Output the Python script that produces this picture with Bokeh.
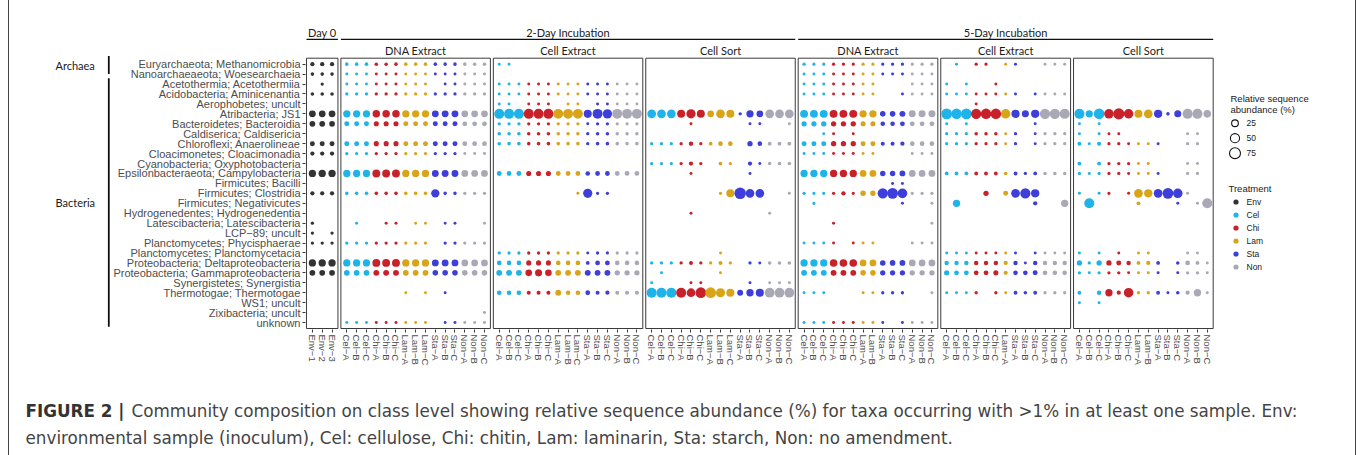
import math
from bokeh.plotting import figure
from bokeh.layouts import row, column
from bokeh.models import Range1d, FixedTicker, Legend, LegendItem, ColumnDataSource
from bokeh.core.properties import value
from bokeh.embed import file_html
from bokeh.resources import INLINE

# ---------------- data ----------------
TAXA = [
    "Euryarchaeota; Methanomicrobia", "Nanoarchaeaeota; Woesearchaeia", "Acetothermia; Acetothermiia",
    "Acidobacteria; Aminicenantia", "Aerophobetes; uncult", "Atribacteria; JS1",
    "Bacteroidetes; Bacteroidia", "Caldiserica; Caldisericia", "Chloroflexi; Anaerolineae",
    "Cloacimonetes; Cloacimonadia", "Cyanobacteria; Oxyphotobacteria", "Epsilonbacteraeota; Campylobacteria",
    "Firmicutes; Bacilli", "Firmicutes; Clostridia", "Firmicutes; Negativicutes",
    "Hydrogenedentes; Hydrogenedentia", "Latescibacteria; Latescibacteria", "LCP\u221289; uncult",
    "Planctomycetes; Phycisphaerae", "Planctomycetes; Planctomycetacia", "Proteobacteria; Deltaproteobacteria",
    "Proteobacteria; Gammaproteobacteria", "Synergistetes; Synergistia", "Thermotogae; Thermotogae",
    "WS1; uncult", "Zixibacteria; uncult", "unknown",
]
KEYS = [
    "Methanomicrobia", "Woesearchaeia", "Acetothermiia", "Aminicenantia", "Aerophobetes", "JS1",
    "Bacteroidia", "Caldisericia", "Anaerolineae", "Cloacimonadia", "Oxyphotobacteria", "Campylobacteria",
    "Bacilli", "Clostridia", "Negativicutes", "Hydrogenedentia", "Latescibacteria", "LCP-89",
    "Phycisphaerae", "Planctomycetacia", "Deltaproteobacteria", "Gammaproteobacteria", "Synergistia",
    "Thermotogae", "WS1", "Zixibacteria", "unknown",
]
DOMAINS = [("Archaea", 0, 1), ("Bacteria", 2, 26)]

M = "\u2212"
SAMPLES_DAY0 = ["Env" + M + "1", "Env" + M + "2", "Env" + M + "3"]
SAMPLES_15 = ["Cel" + M + "A", "Cel" + M + "B", "Cel" + M + "C", "Chi" + M + "A", "Chi" + M + "B", "Chi" + M + "C",
              "Lam" + M + "A", "Lam" + M + "B", "Lam" + M + "C", "Sta" + M + "A", "Sta" + M + "B", "Sta" + M + "C",
              "Non" + M + "A", "Non" + M + "B", "Non" + M + "C"]
SAMPLES_5D_DNA = ["Cel" + M + "A", "Cel" + M + "B", "Cel" + M + "C", "Chi" + M + "A", "Chi" + M + "B", "Chi" + M + "C",
                  "Lam" + M + "A", "Lam" + M + "B", "Sta" + M + "A", "Sta" + M + "B", "Sta" + M + "C",
                  "Non" + M + "A", "Non" + M + "B", "Non" + M + "C"]
SAMPLES_5D_CELLEX = ["Cel" + M + "A", "Cel" + M + "B", "Cel" + M + "C", "Chi" + M + "A", "Chi" + M + "B", "Chi" + M + "C",
                     "Lam" + M + "A", "Sta" + M + "A", "Sta" + M + "B", "Sta" + M + "C",
                     "Non" + M + "A", "Non" + M + "B", "Non" + M + "C"]
SAMPLES_5D_SORT = ["Cel" + M + "A", "Cel" + M + "B", "Cel" + M + "C", "Chi" + M + "A", "Chi" + M + "B", "Chi" + M + "C",
                   "Lam" + M + "A", "Lam" + M + "B", "Sta" + M + "A", "Sta" + M + "B", "Sta" + M + "C",
                   "Non" + M + "A", "Non" + M + "B", "Non" + M + "C"]

# relative sequence abundance (%) per taxon, one value per sample (0 = not shown)
DAY0 = {
    "Methanomicrobia": [8, 8, 8], "Woesearchaeia": [5, 5, 5], "Acetothermiia": [0, 4, 0],
    "Aminicenantia": [5, 5, 5], "JS1": [25, 25, 25], "Bacteroidia": [17, 17, 17],
    "Anaerolineae": [12, 12, 12], "Cloacimonadia": [8, 8, 8], "Campylobacteria": [30, 30, 30],
    "Clostridia": [8, 8, 8], "Latescibacteria": [4, 0, 0], "LCP-89": [4, 0, 4],
    "Phycisphaerae": [4, 4, 4], "Deltaproteobacteria": [30, 30, 30], "Gammaproteobacteria": [17, 17, 17],
}
D2_DNA = {
    "Methanomicrobia":     [5, 5, 5, 5, 5, 5, 5, 5, 5, 5, 5, 5, 5, 5, 5],
    "Woesearchaeia":       [3, 3, 3, 3, 3, 3, 3, 3, 3, 3, 3, 3, 3, 3, 3],
    "Acetothermiia":       [3, 3, 3, 3, 3, 3, 3, 3, 3, 0, 3, 3, 3, 3, 3],
    "Aminicenantia":       [4, 4, 4, 4, 4, 4, 4, 4, 4, 4, 4, 4, 4, 4, 4],
    "JS1":                 [30, 30, 30, 32, 32, 32, 30, 30, 30, 26, 26, 26, 25, 25, 25],
    "Bacteroidia":         [12, 12, 12, 13, 13, 13, 12, 12, 12, 12, 12, 12, 11, 11, 11],
    "Anaerolineae":        [12, 12, 12, 13, 13, 13, 12, 12, 12, 12, 12, 12, 11, 11, 11],
    "Cloacimonadia":       [4, 4, 4, 4, 4, 4, 4, 4, 4, 4, 4, 4, 3, 3, 3],
    "Campylobacteria":     [30, 30, 30, 36, 36, 36, 30, 30, 30, 26, 26, 26, 25, 25, 25],
    "Clostridia":          [5, 5, 5, 5, 5, 5, 5, 5, 5, 40, 5, 5, 4, 4, 4],
    "Latescibacteria":     [0, 3, 0, 0, 3, 3, 0, 3, 3, 0, 3, 3, 0, 0, 3],
    "Phycisphaerae":       [4, 4, 4, 4, 4, 4, 4, 4, 4, 0, 4, 4, 4, 4, 4],
    "Deltaproteobacteria": [30, 30, 30, 36, 36, 36, 30, 30, 30, 26, 26, 26, 25, 25, 25],
    "Gammaproteobacteria": [17, 17, 17, 18, 18, 18, 17, 17, 17, 16, 16, 16, 16, 16, 16],
    "Thermotogae":         [0, 0, 0, 0, 0, 0, 3, 0, 3, 0, 3, 0, 0, 0, 0],
    "Zixibacteria":        [0, 0, 0, 0, 0, 0, 0, 0, 0, 0, 0, 0, 0, 0, 3],
    "unknown":             [3, 3, 3, 3, 3, 3, 3, 3, 3, 0, 3, 3, 3, 3, 3],
}
D2_CELLEX = {
    "Methanomicrobia":     [3, 3, 0, 0, 0, 0, 0, 0, 0, 0, 0, 0, 0, 0, 0],
    "Acetothermiia":       [3, 3, 3, 3, 3, 3, 3, 3, 3, 3, 3, 3, 3, 3, 3],
    "Aminicenantia":       [3, 3, 3, 3, 3, 3, 3, 3, 3, 3, 3, 3, 3, 3, 3],
    "Aerophobetes":        [3, 3, 0, 3, 3, 3, 0, 3, 3, 0, 3, 3, 3, 3, 3],
    "JS1":                 [62, 62, 62, 62, 62, 62, 60, 60, 60, 38, 60, 52, 60, 60, 60],
    "Bacteroidia":         [4, 4, 4, 4, 4, 4, 4, 4, 4, 3, 4, 4, 4, 4, 4],
    "Caldisericia":        [5, 5, 5, 5, 5, 5, 5, 5, 5, 4, 5, 5, 5, 5, 5],
    "Anaerolineae":        [5, 5, 5, 5, 5, 5, 5, 5, 5, 4, 5, 5, 5, 5, 5],
    "Campylobacteria":     [11, 11, 11, 13, 13, 13, 11, 11, 11, 10, 11, 11, 11, 11, 11],
    "Clostridia":          [0, 0, 0, 0, 0, 0, 0, 0, 3, 50, 4, 4, 0, 0, 0],
    "Planctomycetacia":    [4, 4, 4, 4, 4, 4, 4, 4, 4, 3, 4, 4, 4, 4, 4],
    "Deltaproteobacteria": [10, 10, 10, 13, 13, 13, 10, 10, 10, 6, 11, 11, 10, 10, 10],
    "Gammaproteobacteria": [18, 18, 18, 24, 28, 24, 18, 18, 18, 18, 18, 18, 14, 14, 14],
    "Thermotogae":         [10, 10, 10, 7, 7, 7, 18, 10, 10, 11, 7, 8, 7, 7, 7],
}
D2_SORT = {
    "JS1":                 [45, 45, 45, 37, 52, 37, 25, 45, 37, 4, 30, 25, 45, 45, 45],
    "Bacteroidia":         [0, 0, 0, 0, 3, 0, 0, 0, 0, 0, 3, 3, 0, 0, 3],
    "Anaerolineae":        [4, 4, 4, 4, 9, 4, 6, 10, 10, 0, 14, 10, 6, 6, 6],
    "Oxyphotobacteria":    [4, 4, 4, 4, 8, 4, 0, 6, 4, 0, 8, 3, 5, 5, 5],
    "Campylobacteria":     [0, 0, 0, 0, 3, 0, 0, 0, 0, 0, 3, 0, 0, 0, 0],
    "Clostridia":          [0, 0, 0, 0, 0, 0, 0, 4, 37, 83, 45, 45, 0, 0, 3],
    "Hydrogenedentia":     [0, 0, 0, 0, 3, 0, 0, 0, 0, 0, 0, 0, 3, 0, 0],
    "Planctomycetacia":    [0, 0, 0, 0, 0, 0, 0, 3, 0, 0, 0, 0, 0, 0, 0],
    "Deltaproteobacteria": [4, 4, 4, 4, 7, 4, 4, 7, 4, 0, 4, 3, 5, 5, 5],
    "Gammaproteobacteria": [0, 3, 0, 0, 0, 0, 0, 3, 0, 0, 0, 0, 0, 0, 0],
    "Synergistia":         [3, 0, 0, 0, 3, 3, 0, 0, 0, 0, 3, 0, 3, 3, 3],
    "Thermotogae":         [62, 62, 62, 62, 45, 72, 72, 50, 38, 18, 30, 38, 58, 58, 58],
}
D5_DNA = {
    "Methanomicrobia":     [4, 4, 4, 4, 4, 4, 4, 4, 4, 4, 4, 4, 4, 4],
    "Woesearchaeia":       [3, 3, 3, 3, 3, 3, 3, 3, 3, 3, 3, 3, 3, 3],
    "Acetothermiia":       [3, 3, 3, 3, 3, 3, 3, 3, 0, 0, 0, 3, 3, 3],
    "Aminicenantia":       [3, 3, 3, 3, 3, 3, 3, 3, 0, 0, 3, 3, 3, 3],
    "JS1":                 [36, 36, 36, 36, 36, 36, 30, 30, 16, 16, 18, 27, 27, 27],
    "Bacteroidia":         [14, 14, 14, 14, 14, 14, 13, 13, 10, 10, 11, 11, 11, 11],
    "Caldisericia":        [0, 0, 3, 3, 0, 3, 0, 0, 0, 0, 0, 0, 0, 0],
    "Anaerolineae":        [12, 12, 12, 14, 14, 14, 12, 12, 7, 7, 8, 10, 10, 10],
    "Cloacimonadia":       [3, 3, 3, 3, 3, 3, 3, 3, 0, 0, 0, 3, 3, 3],
    "Campylobacteria":     [30, 30, 30, 30, 30, 30, 25, 25, 15, 15, 17, 25, 25, 25],
    "Bacilli":             [0, 0, 0, 0, 0, 0, 0, 0, 0, 3, 3, 0, 0, 0],
    "Clostridia":          [4, 4, 4, 4, 9, 4, 15, 15, 65, 72, 58, 4, 4, 4],
    "Negativicutes":       [0, 4, 0, 0, 0, 0, 0, 0, 0, 0, 3, 0, 0, 3],
    "Latescibacteria":     [0, 0, 0, 3, 0, 0, 0, 0, 0, 0, 0, 0, 0, 3],
    "Phycisphaerae":       [3, 3, 3, 3, 0, 3, 3, 3, 0, 0, 0, 3, 3, 3],
    "Deltaproteobacteria": [30, 30, 30, 33, 33, 33, 25, 25, 16, 16, 17, 25, 25, 25],
    "Gammaproteobacteria": [18, 18, 18, 18, 18, 18, 16, 16, 14, 14, 14, 14, 14, 14],
    "Thermotogae":         [3, 3, 3, 0, 0, 0, 3, 3, 4, 4, 4, 0, 0, 3],
    "unknown":             [3, 3, 3, 3, 3, 3, 3, 3, 3, 0, 3, 3, 3, 3],
}
D5_CELLEX = {
    "Methanomicrobia":     [0, 3, 0, 4, 4, 0, 3, 3, 0, 0, 3, 3, 3],
    "Acetothermiia":       [3, 0, 3, 0, 0, 3, 0, 0, 0, 0, 0, 0, 0],
    "Aminicenantia":       [3, 3, 3, 3, 3, 3, 3, 3, 0, 3, 3, 3, 3],
    "Aerophobetes":        [0, 0, 0, 3, 0, 0, 0, 0, 0, 0, 0, 0, 0],
    "JS1":                 [72, 68, 72, 65, 68, 68, 55, 40, 28, 40, 65, 65, 62],
    "Bacteroidia":         [3, 0, 3, 0, 0, 0, 0, 0, 0, 3, 0, 0, 0],
    "Caldisericia":        [4, 4, 4, 5, 5, 5, 3, 4, 0, 3, 4, 4, 4],
    "Anaerolineae":        [4, 4, 4, 4, 4, 4, 3, 4, 0, 3, 4, 4, 4],
    "Campylobacteria":     [6, 6, 6, 6, 6, 6, 5, 6, 4, 6, 5, 5, 5],
    "Clostridia":          [0, 0, 0, 0, 14, 0, 12, 45, 65, 40, 0, 0, 0],
    "Negativicutes":       [0, 30, 0, 0, 0, 0, 0, 0, 0, 8, 0, 0, 30],
    "Planctomycetacia":    [3, 3, 3, 3, 3, 3, 3, 3, 0, 3, 3, 3, 3],
    "Deltaproteobacteria": [9, 9, 9, 9, 9, 9, 8, 9, 3, 9, 9, 9, 9],
    "Gammaproteobacteria": [14, 11, 11, 11, 11, 13, 8, 10, 10, 12, 10, 10, 10],
    "Thermotogae":         [3, 3, 3, 4, 0, 4, 3, 6, 5, 6, 4, 4, 4],
}
D5_SORT = {
    "JS1":                 [62, 30, 70, 55, 78, 55, 37, 45, 40, 5, 28, 62, 62, 33],
    "Bacteroidia":         [3, 0, 3, 0, 0, 0, 0, 0, 0, 0, 0, 0, 0, 0],
    "Caldisericia":        [3, 0, 3, 3, 3, 0, 0, 0, 0, 0, 0, 3, 3, 0],
    "Anaerolineae":        [7, 3, 7, 4, 4, 3, 3, 3, 3, 0, 0, 4, 4, 0],
    "Oxyphotobacteria":    [6, 0, 6, 4, 4, 4, 3, 3, 0, 0, 0, 3, 3, 0],
    "Campylobacteria":     [4, 3, 4, 4, 4, 3, 3, 3, 3, 0, 0, 4, 4, 0],
    "Clostridia":          [3, 0, 3, 4, 0, 3, 45, 40, 45, 72, 55, 3, 0, 0],
    "Negativicutes":       [0, 62, 0, 0, 0, 0, 6, 0, 0, 0, 3, 0, 3, 62],
    "Planctomycetacia":    [3, 0, 3, 0, 3, 0, 3, 3, 0, 0, 0, 3, 3, 0],
    "Deltaproteobacteria": [14, 4, 14, 14, 12, 9, 6, 8, 6, 0, 5, 11, 6, 3],
    "Gammaproteobacteria": [4, 3, 4, 4, 4, 3, 3, 3, 3, 0, 3, 4, 4, 3],
    "Thermotogae":         [6, 0, 10, 30, 8, 55, 4, 4, 6, 3, 5, 8, 30, 3],
    "WS1":                 [3, 0, 3, 0, 0, 0, 0, 0, 0, 0, 0, 0, 0, 0],
}

GROUPS = ["Day 0", "2-Day Incubation", "5-Day Incubation"]
PANELS = [
    ("Day 0", "", SAMPLES_DAY0, DAY0),
    ("2-Day Incubation", "DNA Extract", SAMPLES_15, D2_DNA),
    ("2-Day Incubation", "Cell Extract", SAMPLES_15, D2_CELLEX),
    ("2-Day Incubation", "Cell Sort", SAMPLES_15, D2_SORT),
    ("5-Day Incubation", "DNA Extract", SAMPLES_5D_DNA, D5_DNA),
    ("5-Day Incubation", "Cell Extract", SAMPLES_5D_CELLEX, D5_CELLEX),
    ("5-Day Incubation", "Cell Sort", SAMPLES_5D_SORT, D5_SORT),
]
TREATMENTS = ["Env", "Cel", "Chi", "Lam", "Sta", "Non"]
COLORS = {"Env": "#333333", "Cel": "#1EB4EA", "Chi": "#C8212A", "Lam": "#D8A519",
          "Sta": "#3E3EDA", "Non": "#A9A9B5"}
SIZE_BREAKS = [25, 50, 75]

CAPTION_BOLD = "FIGURE 2 |"
CAPTION_1 = ("Community composition on class level showing relative sequence abundance (%) for taxa "
             "occurring with >1% in at least one sample. Env:")
CAPTION_2 = ("environmental sample (inoculum), Cel: cellulose, Chi: chitin, Lam: laminarin, Sta: starch, "
             "Non: no amendment.")

# ---------------- geometry (page pixels) ----------------
COL, PAD, GAP = 10, 6, 3          # x units: column step, panel padding, panel gap
NROW = len(TAXA)
LEFT_W = 110                      # strip with domain brackets
MAIN_BL = 194                     # main figure left border (axis labels)
FRAME_L = LEFT_W + MAIN_BL        # 304
FRAME_W, FRAME_H = 1046, 329
TOP_H = 375                       # height of the chart row
CAP_H = 455 - TOP_H
PXX = 906.7 / 922.0               # px per x unit
PXY = 9.938                       # px per row
X0, Y0 = -1.0, -0.7
X1 = X0 + FRAME_W / PXX
Y1 = Y0 + FRAME_H / PXY


def ix(px):   # page pixel x -> main data x
    return X0 + (px - FRAME_L) / PXX


def iy(py):   # page pixel y -> main data y
    return Y1 - py / PXY


def diam(v):  # area-style size scale, screen px
    return 1.0 + 1.15 * math.sqrt(v)


def row_y(i):
    return NROW - 1 - i


def clear(f):
    f.outline_line_color = None
    f.grid.visible = False
    f.background_fill_color = None
    f.border_fill_color = None
    return f


p = clear(figure(frame_width=FRAME_W, frame_height=FRAME_H,
                 min_border_left=MAIN_BL, min_border_right=0, min_border_top=0,
                 min_border_bottom=TOP_H - FRAME_H,
                 x_range=Range1d(X0, X1), y_range=Range1d(Y0, Y1),
                 output_backend="svg", toolbar_location=None, tools=""))

# panels and points
panel_l, panel_r, tick_x, tick_lab = [], [], [], []
pts = {t: dict(x=[], y=[], size=[], abundance=[], sample=[], taxon=[]) for t in TREATMENTS}
start = 0
for grp, title, samples, data in PANELS:
    n = len(samples)
    xs = [start + PAD + COL * j for j in range(n)]
    tick_x += xs
    tick_lab += samples
    panel_l.append(start)
    panel_r.append(start + COL * (n - 1) + 2 * PAD)
    for i, key in enumerate(KEYS):
        vals = data.get(key)
        if not vals:
            continue
        for j, v in enumerate(vals):
            if v > 0:
                t = samples[j][:3]
                d = pts[t]
                d["x"].append(xs[j]); d["y"].append(row_y(i)); d["size"].append(diam(v))
                d["abundance"].append(v); d["sample"].append(samples[j]); d["taxon"].append(TAXA[i])
    start = panel_r[-1] + GAP

p.quad(left=panel_l, right=panel_r, bottom=-0.6, top=NROW - 1 + 0.6,
       fill_color="white", line_color="#3a3a3a", line_width=1)

items = []
for t in TREATMENTS:
    r = p.scatter("x", "y", size="size", source=ColumnDataSource(pts[t]), marker="circle",
                  fill_color=COLORS[t], line_color=None)
    items.append(LegendItem(label=t, renderers=[r]))

# axes
p.xaxis.ticker = FixedTicker(ticks=tick_x)
p.xaxis.major_label_overrides = {x: s for x, s in zip(tick_x, tick_lab)}
p.xaxis.major_label_orientation = -math.pi / 2
p.yaxis.ticker = FixedTicker(ticks=[row_y(i) for i in range(NROW)])
p.yaxis.major_label_overrides = {row_y(i): TAXA[i] for i in range(NROW)}
for ax in (p.xaxis, p.yaxis):
    ax.axis_line_color = None
    ax.major_tick_line_color = "#3a3a3a"
    ax.major_tick_out = 3
    ax.major_tick_in = 0
    ax.minor_tick_line_color = None
    ax.major_label_text_font = "Liberation Sans"
    ax.major_label_text_color = "#4d4d4d"
    ax.major_label_standoff = 2
p.xaxis.major_label_text_font_size = "9.5px"
p.yaxis.major_label_text_font_size = "11px"

# facet headers
HEAD_FONT = value("Lato")
grp_x0 = {g: min(panel_l[k] for k, pn in enumerate(PANELS) if pn[0] == g) for g in GROUPS}
grp_x1 = {g: max(panel_r[k] for k, pn in enumerate(PANELS) if pn[0] == g) for g in GROUPS}
p.text(x=[(grp_x0[g] + grp_x1[g]) / 2 for g in GROUPS], y=[iy(31.5)] * 3, text=GROUPS,
       text_font=HEAD_FONT, text_font_size=value("11px"), text_align="center",
       text_baseline="middle", text_color="#1a1a1a")
p.segment(x0=[grp_x0[g] for g in GROUPS], x1=[grp_x1[g] for g in GROUPS],
          y0=[iy(38.8)] * 3, y1=[iy(38.8)] * 3, line_color="#111111", line_width=1.2)
titled = [k for k, pn in enumerate(PANELS) if pn[1]]
p.text(x=[(panel_l[k] + panel_r[k]) / 2 for k in titled], y=[iy(50)] * len(titled),
       text=[PANELS[k][1] for k in titled], text_font=HEAD_FONT, text_font_size=value("11px"),
       text_align="center", text_baseline="middle", text_color="#1a1a1a")

# size legend
p.text(x=[ix(1229)] * 2, y=[iy(98), iy(108.5)], text=["Relative sequence", "abundance (%)"],
       text_font=value("Liberation Sans"), text_font_size=value("9.5px"), text_align="left",
       text_baseline="middle", text_color="#1a1a1a")
p.scatter(x=[ix(1233.5)] * 3, y=[iy(122.7), iy(137.7), iy(152.7)], size=[diam(v) for v in SIZE_BREAKS],
          marker="circle", fill_color=None, line_color="#111111", line_width=1.1)
p.text(x=[ix(1245)] * 3, y=[iy(122.7), iy(137.7), iy(152.7)], text=[str(v) for v in SIZE_BREAKS],
       text_font=value("Liberation Sans"), text_font_size=value("8.5px"), text_align="left",
       text_baseline="middle", text_color="#1a1a1a")

# treatment legend
legend = Legend(items=items, title="Treatment", location=(1227.5 - FRAME_L, 56), orientation="vertical",
                glyph_width=13, glyph_height=13, label_height=13, spacing=0, padding=0, margin=0,
                label_standoff=5, title_standoff=1,
                border_line_color=None, background_fill_alpha=0,
                title_text_font="Liberation Sans", title_text_font_size="9.5px", title_text_font_style="normal",
                title_text_color="#1a1a1a",
                label_text_font="Liberation Sans", label_text_font_size="8.5px", label_text_color="#1a1a1a")
p.add_layout(legend)

# left strip: domain brackets, same frame geometry and row scale as the main plot
left = clear(figure(frame_width=LEFT_W, frame_height=FRAME_H, min_border=0,
                    min_border_bottom=TOP_H - FRAME_H,
                    x_range=Range1d(0, LEFT_W), y_range=p.y_range, x_axis_type=None, y_axis_type=None,
                    output_backend="svg", toolbar_location=None, tools=""))
bx = [108.3, 108.3]
b_top = [row_y(0) + 0.83, row_y(1) - 0.41]
b_bot = [row_y(1), row_y(26) - 0.43]
left.segment(x0=bx, x1=bx, y0=b_top, y1=b_bot, line_color="#111111", line_width=1.8)
left.text(x=[55, 55], y=[row_y(0) - 0.17, (b_top[1] + b_bot[1]) / 2], text=[d[0] for d in DOMAINS],
          text_font=HEAD_FONT, text_font_size=value("11px"), text_align="left",
          text_baseline="middle", text_color="#1a1a1a")

# caption strip
cap = clear(figure(width=1360, height=CAP_H, x_range=Range1d(0, 1360), y_range=Range1d(455, TOP_H),
                   x_axis_type=None, y_axis_type=None, min_border=0,
                   output_backend="svg", toolbar_location=None, tools=""))
CAP_FONT = value("DejaVu Sans")
cap.text(x=[25], y=[410], text=[CAPTION_BOLD], text_font=CAP_FONT, text_font_size=value("16.8px"),
         text_font_style="bold", text_align="left", text_baseline="middle", text_color="#333333")
cap.text(x=[131, 25], y=[410, 437], text=[CAPTION_1, CAPTION_2], text_font=CAP_FONT,
         text_font_size=value("16.8px"), text_align="left", text_baseline="middle", text_color="#444444")

# page frame lines at x = 8 and x = 1355 drawn behind the (transparent) canvases
PAGE_CSS = {
    "background-color": "white",
    "background-image": ("linear-gradient(to right, transparent 8px, #444444 8px, #444444 9px, "
                         "transparent 9px, transparent 1355px, #444444 1355px, #444444 1356px, "
                         "transparent 1356px)"),
}
layout = column(row(left, p, spacing=0), cap, spacing=0, styles=PAGE_CSS)
open("out.html", "w").write(file_html(layout, INLINE))
